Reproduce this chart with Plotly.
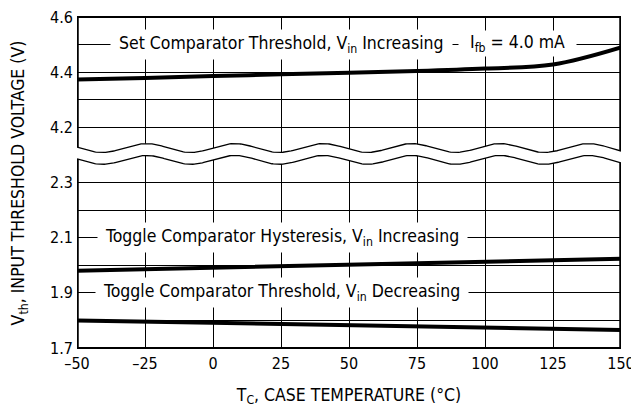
import numpy as np
import plotly.graph_objects as go

# case temperature (deg C)
temp_c = [-50, -25, 0, 25, 50, 75, 100, 125, 150]

# input threshold voltages (V)
set_vin_inc = [4.373, 4.379, 4.386, 4.392, 4.398, 4.404, 4.413, 4.428, 4.490]
hyst_vin_inc = [1.980, 1.985, 1.991, 1.996, 2.002, 2.008, 2.013, 2.018, 2.024]
thresh_vin_dec = [1.800, 1.796, 1.791, 1.787, 1.783, 1.778, 1.774, 1.769, 1.765]

x_ticks = [-50, -25, 0, 25, 50, 75, 100, 125, 150]
x_ticktext = ['–50', '–25', '0', '25', '50', '75', '100', '125', '150']
top_ticks = [4.2, 4.3, 4.4, 4.5, 4.6]
top_ticktext = ['4.2', '', '4.4', '', '4.6']
bot_ticks = [1.7, 1.8, 1.9, 2.0, 2.1, 2.2, 2.3]
bot_ticktext = ['1.7', '', '1.9', '', '2.1', '', '2.3']

FONT = 'DejaVu Sans Condensed, Liberation Sans Narrow, sans-serif'
NB = '\u00a0'

top_range = [4.1, 4.6]
bot_range = [1.7, 2.4]
split = (bot_range[1] - bot_range[0]) / (bot_range[1] - bot_range[0] + top_range[1] - top_range[0])

# axis break wave (decoration)
wx = np.linspace(-50, 150, 400)
wave = 0.016 * np.cos(2 * np.pi * (wx + 24.5) / 32.5)
top_wave = 4.125 + wave
bot_wave = 2.382 + wave

fig = go.Figure()

# white masks beyond the break
fig.add_trace(go.Scatter(
    x=list(wx) + [150, -50], y=list(top_wave) + [top_range[0], top_range[0]],
    fill='toself', fillcolor='white', line=dict(width=0), mode='lines',
    yaxis='y2', hoverinfo='skip', showlegend=False))
fig.add_trace(go.Scatter(
    x=list(wx) + [150, -50], y=list(bot_wave) + [bot_range[1], bot_range[1]],
    fill='toself', fillcolor='white', line=dict(width=0), mode='lines',
    yaxis='y', hoverinfo='skip', showlegend=False))

# wave outlines
fig.add_trace(go.Scatter(x=wx, y=top_wave, mode='lines', yaxis='y2',
                         line=dict(color='black', width=1.3), hoverinfo='skip', showlegend=False))
fig.add_trace(go.Scatter(x=wx, y=bot_wave, mode='lines', yaxis='y',
                         line=dict(color='black', width=1.3), hoverinfo='skip', showlegend=False))

# side edges of the frame
fig.add_trace(go.Scatter(x=[-50, -50, None, 150, 150], y=[top_wave[0], 4.6, None, 4.6, top_wave[-1]],
                         mode='lines', yaxis='y2', line=dict(color='black', width=3.5),
                         hoverinfo='skip', showlegend=False))
fig.add_trace(go.Scatter(x=[-50, -50, None, 150, 150], y=[bot_wave[0], 1.7, None, 1.7, bot_wave[-1]],
                         mode='lines', yaxis='y', line=dict(color='black', width=3.5),
                         hoverinfo='skip', showlegend=False))

# data curves
fig.add_trace(go.Scatter(x=temp_c, y=set_vin_inc, mode='lines', yaxis='y2',
                         line=dict(color='black', width=4, shape='spline'), showlegend=False))
fig.add_trace(go.Scatter(x=temp_c, y=hyst_vin_inc, mode='lines', yaxis='y',
                         line=dict(color='black', width=4), showlegend=False))
fig.add_trace(go.Scatter(x=temp_c, y=thresh_vin_dec, mode='lines', yaxis='y',
                         line=dict(color='black', width=4), showlegend=False))

label_font = dict(family=FONT, size=17.5, color='black')

# the page puts the figure 8px in from the top-left corner; keep it inside the window
fig.update_layout(
    width=631, height=400,
    margin=dict(l=69, r=18, t=9, b=60),
    paper_bgcolor='white', plot_bgcolor='white',
    font=dict(family=FONT, size=16, color='black'),
    xaxis=dict(
        range=[-50, 150], tickvals=x_ticks, ticktext=x_ticktext,
        showgrid=True, gridcolor='black', gridwidth=1, zeroline=False,
        showline=False, ticks='', tickfont=dict(size=16), automargin=False,
        ticklabelstandoff=4, ticklabeloverflow='allow',
        title=dict(text='T<sub>C</sub>, CASE TEMPERATURE (°C)', standoff=16,
                   font=dict(size=17.5)),
        anchor='y',
    ),
    yaxis=dict(
        domain=[0, split], range=bot_range, tickvals=bot_ticks, ticktext=bot_ticktext,
        showgrid=True, gridcolor='black', gridwidth=1, zeroline=False, automargin=False,
        showline=False, ticks='', tickfont=dict(size=16), ticklabelstandoff=3,
        ticklabeloverflow='allow',
    ),
    yaxis2=dict(
        domain=[split, 1], range=top_range, tickvals=top_ticks, ticktext=top_ticktext,
        showgrid=True, gridcolor='black', gridwidth=1, zeroline=False, automargin=False,
        showline=False, ticks='', tickfont=dict(size=16), anchor='x', ticklabelstandoff=3,
        ticklabeloverflow='allow',
    ),
    shapes=[
        dict(type='line', xref='paper', yref='paper', x0=0, x1=1, y0=1, y1=1,
             line=dict(color='black', width=2)),
        dict(type='line', xref='paper', yref='paper', x0=0, x1=1, y0=0, y1=0,
             line=dict(color='black', width=2)),
    ],
    annotations=[
        dict(x=25, y=4.5, xref='x', yref='y2', showarrow=False, bgcolor='white', borderpad=3,
             text=NB + 'Set Comparator Threshold, V<sub>in</sub> Increasing' + NB, font=label_font),
        dict(x=112, y=4.5, xref='x', yref='y2', showarrow=False, bgcolor='white', borderpad=1,
             yshift=1, text=NB + NB + 'I<sub>fb</sub> = 4.0 mA' + NB + NB, font=label_font),
        dict(x=25.5, y=2.1, xref='x', yref='y', showarrow=False, bgcolor='white', borderpad=3,
             text=NB + 'Toggle Comparator Hysteresis, V<sub>in</sub> Increasing' + NB, font=label_font),
        dict(x=25.5, y=1.9, xref='x', yref='y', showarrow=False, bgcolor='white', borderpad=3,
             text=NB + 'Toggle Comparator Threshold, V<sub>in</sub> Decreasing' + NB, font=label_font),
        dict(x=-0.105, y=0.5, xref='paper', yref='paper', showarrow=False, textangle=-90,
             xanchor='center', yanchor='middle',
             text='V<sub>th</sub>, INPUT THRESHOLD VOLTAGE (V)', font=dict(family=FONT, size=17.5)),
    ],
)

fig.write_html('out.html')
